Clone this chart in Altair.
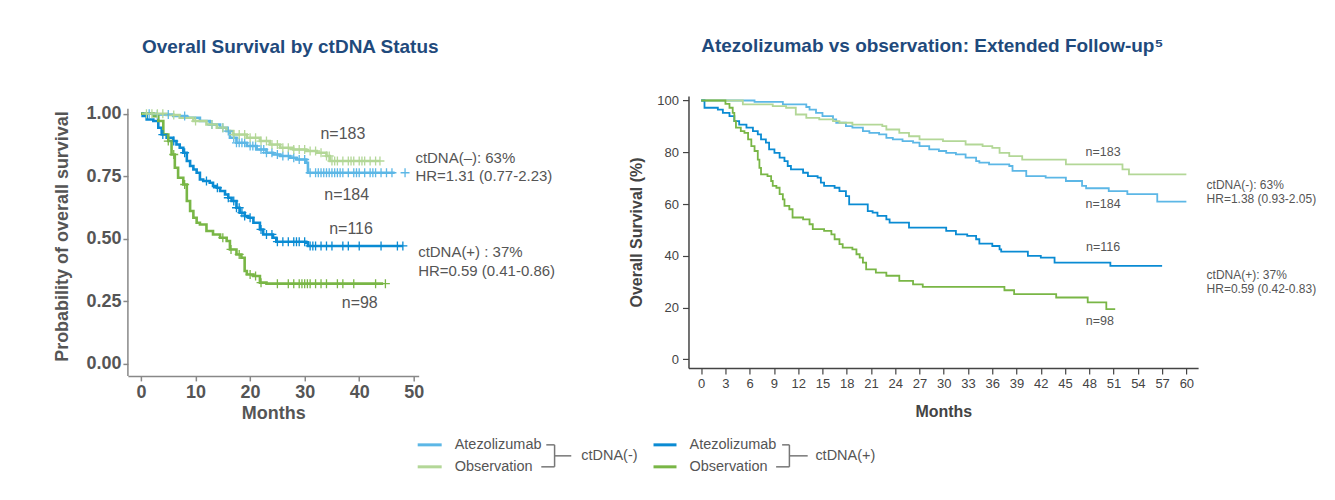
import altair as alt
import pandas as pd

FONT = "Liberation Sans"

# ---------------- Left panel: Overall Survival by ctDNA Status ----------------
# Kaplan-Meier step events (months, survival probability)
L_NEG_ATZ_T = [2.9, 5.9, 8.4, 10.8, 12.6, 14.5, 15.7, 16.3, 17.5, 19.4, 21.2, 23.0, 24.2, 25.5, 27.3, 28.5, 30.3, 30.6]
L_NEG_ATZ_S = [0.997, 0.991, 0.984, 0.971, 0.957, 0.944, 0.931, 0.904, 0.884, 0.871, 0.857, 0.844, 0.837, 0.831, 0.824, 0.817, 0.804, 0.764]
L_NEG_ATZ_END = 46.5
L_NEG_ATZ_CENS = [1.5, 3, 5, 8, 13, 15, 16, 17, 17.5, 18, 18.5, 19, 20, 20.5, 21, 22, 22.5, 23, 24, 25, 26, 27, 28,
                  29, 30, 31, 32, 32.5, 33, 33.5, 34, 34.5, 35, 35.5, 36, 36.5, 37, 38, 39, 39.5, 40, 41, 42, 42.5,
                  43, 44, 45, 46, 48.4]

L_NEG_OBS_T = [4.7, 7.1, 9.6, 12.0, 13.9, 15.7, 16.9, 19.4, 21.8, 23.6, 25.5, 27.9, 30.3, 32.2, 34.0, 34.6]
L_NEG_OBS_S = [0.995, 0.984, 0.971, 0.957, 0.944, 0.931, 0.917, 0.904, 0.891, 0.877, 0.864, 0.857, 0.851, 0.844, 0.831, 0.811]
L_NEG_OBS_END = 43.8
L_NEG_OBS_CENS = [1, 2, 3, 4, 6, 10, 13, 15, 17, 18, 19, 20, 21, 22, 23, 24, 25, 26, 27, 28, 29, 30, 31, 32, 33, 34,
                  34.5, 35, 35.5, 36, 37, 38, 38.5, 39, 40, 40.5, 41, 42, 43, 43.8]

L_POS_ATZ_T = [0.3, 1.04, 2.26, 3.17, 3.79, 4.7, 5.9, 6.5, 7.1, 7.75, 8.4, 9.0, 9.6, 10.2, 10.8, 11.4, 12.6, 13.2,
               13.9, 14.5, 15.4, 16.0, 16.6, 17.5, 18.1, 19.0, 19.7, 20.6, 21.8, 22.4, 24.2, 24.8, 30.3, 30.6]
L_POS_ATZ_S = [0.991, 0.977, 0.971, 0.944, 0.917, 0.904, 0.891, 0.877, 0.864, 0.844, 0.811, 0.791, 0.777, 0.764,
               0.737, 0.731, 0.724, 0.711, 0.704, 0.691, 0.677, 0.664, 0.651, 0.624, 0.604, 0.591, 0.584, 0.564,
               0.537, 0.517, 0.504, 0.488, 0.484, 0.471]
L_POS_ATZ_END = 48.0
L_POS_ATZ_CENS = [4, 6, 8, 12, 14, 16, 17, 17.5, 18, 18.5, 19, 20, 22, 23, 24, 25, 26, 27, 28, 28.5, 29, 30, 31,
                  31.5, 32, 33, 34, 35, 37, 38, 40, 44, 47, 48]

L_POS_OBS_T = [2.3, 3.17, 4.09, 5.0, 5.6, 6.2, 6.8, 7.75, 8.4, 9.0, 9.6, 10.2, 10.8, 12.0, 13.2, 14.5, 15.7, 16.3,
               17.5, 18.4, 19.0, 19.4, 20.6, 21.8, 23.0]
L_POS_OBS_S = [0.99, 0.971, 0.917, 0.891, 0.837, 0.784, 0.744, 0.717, 0.651, 0.611, 0.584, 0.564, 0.557, 0.531,
               0.517, 0.504, 0.491, 0.457, 0.437, 0.424, 0.371, 0.357, 0.351, 0.324, 0.32]
L_POS_OBS_END = 44.4
L_POS_OBS_CENS = [5, 6, 8, 15, 16.5, 18, 20, 21, 22, 25, 27, 28, 29, 29.5, 30, 30.5, 31, 32, 33, 34, 36, 37, 39,
                  43, 44.8]

L_N_LABELS = ["n=183", "n=184", "n=116", "n=98"]
L_N_X = [37.0, 37.7, 38.5, 40.1]
L_N_Y = [0.92, 0.674, 0.538, 0.242]

L_HR_LABELS = ["ctDNA(\u2013): 63%", "HR=1.31 (0.77-2.23)", "ctDNA(+) : 37%", "HR=0.59 (0.41-0.86)"]
L_HR_X = [50.3, 50.3, 50.8, 50.8]
L_HR_Y = [0.824, 0.751, 0.447, 0.371]

L_XTICKS = [0, 10, 20, 30, 40, 50]
L_YTICKS = [0, 0.25, 0.5, 0.75, 1.0]

# ---------------- Right panel: Extended follow-up ----------------
R_NEG_ATZ_T = [6.6, 10.1, 13.0, 13.4, 14.2, 15.0, 16.3, 16.7, 17.9, 18.7, 20.0, 20.8, 22.0, 22.9, 23.7, 24.9, 26.2,
               27.0, 28.2, 29.4, 30.3, 31.5, 32.7, 34.0, 34.4, 35.6, 38.1, 38.5, 40.2, 42.6, 45.1, 47.1, 47.6, 50.4,
               52.7, 56.4]
R_NEG_ATZ_S = [99.5, 98.5, 97.5, 96.5, 95.2, 94.0, 92.7, 91.4, 90.1, 89.5, 88.2, 87.5, 86.9, 85.6, 85.0, 84.3, 83.7,
               82.4, 81.1, 80.5, 79.8, 79.2, 77.9, 76.6, 76.0, 75.3, 74.7, 72.8, 70.8, 70.2, 68.9, 67.0, 66.1, 65.0,
               63.8, 60.9]
R_NEG_ATZ_END = 60.0

R_NEG_OBS_T = [5.15, 8.85, 10.5, 11.7, 13.0, 14.6, 16.3, 17.1, 18.7, 22.4, 22.9, 24.5, 25.7, 27.0, 29.9, 32.7, 34.8,
               36.0, 36.9, 38.1, 39.7, 45.1, 52.1, 52.9]
R_NEG_OBS_S = [98.5, 97.8, 97.2, 94.6, 93.3, 92.7, 92.0, 91.4, 90.7, 90.1, 88.8, 87.5, 86.2, 85.0, 84.3, 83.0, 82.4,
               81.7, 79.8, 78.5, 77.2, 75.3, 73.4, 71.5]
R_NEG_OBS_END = 60.0

R_POS_ATZ_T = [0.41, 2.06, 2.68, 3.5, 4.1, 4.7, 5.6, 6.4, 7.0, 7.4, 8.0, 8.4, 9.06, 9.7, 10.3, 10.7, 11.1, 12.6, 13.2,
               14.4, 14.8, 15.2, 16.5, 17.1, 17.9, 18.3, 20.6, 21.2, 21.8, 22.9, 23.3, 25.7, 30.3, 31.5, 32.9, 34.0,
               34.4, 36.0, 36.9, 37.1, 40.4, 42.0, 43.7, 50.6]
R_POS_ATZ_S = [97.2, 96.5, 95.2, 94.0, 92.0, 90.7, 89.5, 88.2, 86.9, 85.0, 83.7, 81.1, 79.8, 77.9, 76.6, 74.7, 73.4,
               72.1, 70.8, 70.2, 68.3, 67.0, 66.3, 65.0, 63.1, 59.9, 57.3, 56.7, 55.4, 54.1, 52.8, 50.9, 49.6, 48.3,
               47.7, 46.4, 44.7, 43.8, 42.5, 41.6, 40.0, 39.3, 37.4, 36.1]
R_POS_ATZ_END = 57.0

R_POS_OBS_T = [3.0, 3.5, 3.9, 4.1, 4.3, 4.9, 5.35, 5.8, 6.2, 6.6, 7.0, 7.2, 7.4, 8.2, 8.65, 8.85, 9.3, 9.7, 10.1,
               10.3, 10.9, 11.3, 12.6, 13.4, 13.8, 15.2, 16.1, 16.5, 17.1, 17.5, 18.7, 19.2, 19.6, 20.0, 20.4, 21.6,
               22.9, 24.5, 26.2, 27.4, 37.5, 38.7, 43.9, 47.8, 50.1]
R_POS_OBS_S = [98.7, 97.2, 95.2, 92.0, 89.5, 88.2, 87.5, 85.0, 82.4, 80.5, 77.2, 74.0, 71.5, 70.8, 68.9, 67.0, 66.3,
               63.8, 61.8, 59.3, 58.0, 54.8, 54.1, 52.2, 50.3, 49.6, 48.3, 46.4, 44.5, 43.2, 42.5, 40.6, 39.3, 37.4,
               34.8, 33.5, 32.3, 30.3, 29.0, 28.0, 26.7, 25.2, 23.9, 22.0, 19.4]
R_POS_OBS_END = 51.2

R_N_LABELS = ["n=183", "n=184", "n=116", "n=98"]
R_N_X = [49.7, 49.7, 49.7, 49.3]
R_N_Y = [80.1, 59.9, 43.6, 14.7]

R_HR_LABELS = ["ctDNA(-): 63%", "HR=1.38 (0.93-2.05)", "ctDNA(+): 37%", "HR=0.59 (0.42-0.83)"]
R_HR_X = [62.5, 62.5, 62.5, 62.5]
R_HR_Y = [67.3, 61.9, 32.7, 27.1]

R_XTICKS = list(range(0, 61, 3))
R_YTICKS = [0, 20, 40, 60, 80, 100]

# ---------------- Shared legend ----------------
GROUPS = ["neg_atz", "neg_obs", "pos_atz", "pos_obs"]
LEFT_COLORS = ["#5cb7e6", "#b3d797", "#0a8bd3", "#79b646"]
RIGHT_COLORS = ["#6dc5ee", "#a9d46a", "#1b9be0", "#8cc63e"]
LEGEND_TEXT = ["Atezolizumab", "Observation", "ctDNA(-)", "Atezolizumab", "Observation", "ctDNA(+)"]

TITLE_COLOR = "#1f4a7c"


def km_frame(times, surv, end, group, start):
    assert len(times) == len(surv)
    rows = [(0.0, start)] + list(zip(times, surv)) + [(end, surv[-1])]
    df = pd.DataFrame(rows, columns=["t", "s"])
    df["g"] = group
    return df


def censor_frame(times, surv, ctimes, group, start):
    rows = []
    for c in ctimes:
        s = start
        for t, v in zip(times, surv):
            if t <= c:
                s = v
        rows.append((c, s))
    df = pd.DataFrame(rows, columns=["t", "s"])
    df["g"] = group
    return df


left_lines = pd.concat([
    km_frame(L_NEG_ATZ_T, L_NEG_ATZ_S, L_NEG_ATZ_END, "neg_atz", 1.0),
    km_frame(L_NEG_OBS_T, L_NEG_OBS_S, L_NEG_OBS_END, "neg_obs", 1.0),
    km_frame(L_POS_ATZ_T, L_POS_ATZ_S, L_POS_ATZ_END, "pos_atz", 1.0),
    km_frame(L_POS_OBS_T, L_POS_OBS_S, L_POS_OBS_END, "pos_obs", 1.0),
], ignore_index=True)

left_cens = pd.concat([
    censor_frame(L_NEG_ATZ_T, L_NEG_ATZ_S, L_NEG_ATZ_CENS, "neg_atz", 1.0),
    censor_frame(L_NEG_OBS_T, L_NEG_OBS_S, L_NEG_OBS_CENS, "neg_obs", 1.0),
    censor_frame(L_POS_ATZ_T, L_POS_ATZ_S, L_POS_ATZ_CENS, "pos_atz", 1.0),
    censor_frame(L_POS_OBS_T, L_POS_OBS_S, L_POS_OBS_CENS, "pos_obs", 1.0),
], ignore_index=True)

right_lines = pd.concat([
    km_frame(R_NEG_ATZ_T, R_NEG_ATZ_S, R_NEG_ATZ_END, "neg_atz", 100.0),
    km_frame(R_NEG_OBS_T, R_NEG_OBS_S, R_NEG_OBS_END, "neg_obs", 100.0),
    km_frame(R_POS_ATZ_T, R_POS_ATZ_S, R_POS_ATZ_END, "pos_atz", 100.0),
    km_frame(R_POS_OBS_T, R_POS_OBS_S, R_POS_OBS_END, "pos_obs", 100.0),
], ignore_index=True)

# ---------------- Left chart ----------------
LX_DOM = [-2.4, 50.9]
LY_DOM = [-0.0492, 1.0708]
lx = alt.Scale(domain=LX_DOM, nice=False, zero=False)
ly = alt.Scale(domain=LY_DOM, nice=False, zero=False)
lcol = alt.Scale(domain=GROUPS, range=LEFT_COLORS)

lax = alt.Axis(values=L_XTICKS, title="Months", grid=False, labelFont=FONT, labelFontSize=18,
               labelFontWeight="bold", labelColor="#555555", titleFont=FONT, titleFontSize=18,
               titleFontWeight="bold", titleColor="#555555", domainColor="#888888", domainWidth=1.5,
               tickColor="#888888", tickWidth=1.5, tickSize=5, labelPadding=3, titlePadding=3)
lay = alt.Axis(values=L_YTICKS, format=".2f", title="Probability of overall survival", grid=False,
               domain=False, labelFont=FONT, labelFontSize=18, labelFontWeight="bold",
               labelColor="#555555", titleFont=FONT, titleFontSize=18, titleFontWeight="bold",
               titleColor="#555555", tickColor="#888888", tickWidth=1.5, tickSize=5, labelPadding=2,
               titlePadding=14)

l_base_x = alt.X("t:Q", scale=lx, axis=lax)
l_base_y = alt.Y("s:Q", scale=ly, axis=lay)

l_lines = alt.Chart(left_lines).mark_line(interpolate="step-after", strokeWidth=2.6).encode(
    x=l_base_x, y=l_base_y, color=alt.Color("g:N", scale=lcol, legend=None))

l_cens = alt.Chart(left_cens).mark_point(shape="M-1,0L1,0M0,-1L0,1", size=80, strokeWidth=1.3,
                                         filled=False, opacity=1).encode(
    x=l_base_x, y=l_base_y, color=alt.Color("g:N", scale=lcol, legend=None))

l_yrule = alt.Chart(pd.DataFrame({"t": [LX_DOM[0]], "s": [LY_DOM[0]], "s2": [1.02]})).mark_rule(
    color="#888888", strokeWidth=1.5).encode(x=l_base_x, y=l_base_y, y2="s2:Q")

l_n = alt.Chart(pd.DataFrame({"t": L_N_X, "s": L_N_Y, "label": L_N_LABELS})).mark_text(
    font=FONT, fontSize=16, color="#555555", align="center", baseline="middle").encode(
    x=l_base_x, y=l_base_y, text="label:N")

l_hr = alt.Chart(pd.DataFrame({"t": L_HR_X, "s": L_HR_Y, "label": L_HR_LABELS})).mark_text(
    font=FONT, fontSize=15, color="#555555", align="left", baseline="middle").encode(
    x=l_base_x, y=l_base_y, text="label:N")

left = alt.layer(l_lines, l_cens, l_yrule, l_n, l_hr).properties(
    width=291, height=280,
    title=alt.TitleParams("Overall Survival by ctDNA Status", font=FONT, fontSize=19, fontWeight="bold",
                          color=TITLE_COLOR, anchor="middle", frame="group", offset=39, dx=17))

# ---------------- Right chart ----------------
RX_DOM = [-1.57, 61.45]
RY_DOM = [-3.3, 101.7]
rx = alt.Scale(domain=RX_DOM, nice=False, zero=False)
ry = alt.Scale(domain=RY_DOM, nice=False, zero=False)
rcol = alt.Scale(domain=GROUPS, range=RIGHT_COLORS)

rax = alt.Axis(values=R_XTICKS, title="Months", grid=False, labelFont=FONT, labelFontSize=13,
               labelColor="#444444", titleFont=FONT, titleFontSize=16, titleFontWeight="bold",
               titleColor="#444444", domainColor="#444444", domainWidth=1.5, tickColor="#444444",
               tickWidth=1.2, tickSize=6, labelPadding=4, titlePadding=13)
ray = alt.Axis(values=R_YTICKS, title="Overall Survival (%)", grid=False, labelFont=FONT, labelFontSize=13,
               labelColor="#444444", titleFont=FONT, titleFontSize=16, titleFontWeight="bold",
               titleColor="#444444", domainColor="#444444", domainWidth=1.5, tickColor="#444444",
               tickWidth=1.2, tickSize=6, labelPadding=4, titlePadding=12)

r_base_x = alt.X("t:Q", scale=rx, axis=rax)
r_base_y = alt.Y("s:Q", scale=ry, axis=ray)

r_lines = alt.Chart(right_lines).mark_line(interpolate="step-after", strokeWidth=1.8).encode(
    x=r_base_x, y=r_base_y, color=alt.Color("g:N", scale=rcol, legend=None))

r_n = alt.Chart(pd.DataFrame({"t": R_N_X, "s": R_N_Y, "label": R_N_LABELS})).mark_text(
    font=FONT, fontSize=12.5, color="#555555", align="center", baseline="middle").encode(
    x=r_base_x, y=r_base_y, text="label:N")

r_hr = alt.Chart(pd.DataFrame({"t": R_HR_X, "s": R_HR_Y, "label": R_HR_LABELS})).mark_text(
    font=FONT, fontSize=12, color="#555555", align="left", baseline="middle").encode(
    x=r_base_x, y=r_base_y, text="label:N")

# Legend (placed below both panels, pixel positions relative to the right panel's plot origin)
OX, OY = 689, 95
sw = pd.DataFrame({
    "x": [418 - OX, 418 - OX, 654 - OX, 654 - OX],
    "x2": [442 - OX, 442 - OX, 677 - OX, 677 - OX],
    "y": [444 - OY, 466 - OY, 444 - OY, 466 - OY],
    "c": LEFT_COLORS,
})
br = pd.DataFrame({
    "x": [546.7, 541.7, 555, 555, 782.7, 776.7, 790, 790],
    "x2": [555, 555, 555, 571.7, 790, 790, 790, 808.3],
    "y": [444, 466, 444, 455, 444, 466, 444, 455],
    "y2": [444, 466, 466, 455, 444, 466, 466, 455],
})
br["x"] -= OX
br["x2"] -= OX
br["y"] -= OY
br["y2"] -= OY
lt = pd.DataFrame({
    "x": [455 - OX, 455 - OX, 581.7 - OX, 690 - OX, 690 - OX, 816 - OX],
    "y": [444 - OY, 466 - OY, 455 - OY, 444 - OY, 466 - OY, 455 - OY],
    "label": LEGEND_TEXT,
})

leg_sw = alt.Chart(sw).mark_rule(strokeWidth=3).encode(
    x=alt.X("x:Q", scale=None, axis=None), x2="x2:Q",
    y=alt.Y("y:Q", scale=None, axis=None), color=alt.Color("c:N", scale=None, legend=None))
leg_br = alt.Chart(br).mark_rule(strokeWidth=1.5, color="#777777").encode(
    x=alt.X("x:Q", scale=None, axis=None), x2="x2:Q",
    y=alt.Y("y:Q", scale=None, axis=None), y2="y2:Q")
leg_tx = alt.Chart(lt).mark_text(font=FONT, fontSize=14.5, color="#555555", align="left",
                                 baseline="middle").encode(
    x=alt.X("x:Q", scale=None, axis=None), y=alt.Y("y:Q", scale=None, axis=None), text="label:N")

right = alt.layer(r_lines, r_n, r_hr, leg_sw, leg_br, leg_tx).properties(
    width=510, height=272,
    title=alt.TitleParams("Atezolizumab vs observation: Extended Follow-up\u2075", font=FONT, fontSize=19,
                          fontWeight="bold", color=TITLE_COLOR, anchor="middle", frame="group",
                          offset=39, dx=-11))

chart = alt.hconcat(left, right, spacing=270, bounds="flush").properties(
    padding={"left": 45, "top": 28, "right": 10, "bottom": 5},
    background="white"
).configure_view(stroke=None)

chart.save("out.html", embed_options={"renderer": "svg", "actions": False})
